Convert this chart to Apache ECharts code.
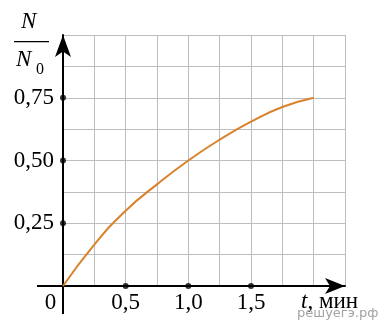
<!DOCTYPE html>
<html>
<head>
<meta charset="utf-8">
<script src="https://cdn.jsdelivr.net/npm/echarts@6/dist/echarts.min.js"></script>
<style>
  html, body { margin: 0; padding: 0; background: #fff; }
  #chart { width: 386px; height: 323px; }
</style>
</head>
<body>
<div id="chart"></div>
<script>
// N/N0 over time, t in minutes
const timeMin = [0, 0.25, 0.5, 0.75, 1, 1.25, 1.5, 1.75, 2]
const ratio = [0, 0.165, 0.3, 0.405, 0.5, 0.583, 0.655, 0.713, 0.75]

const xTickValues = [0.5, 1, 1.5]
const xTickLabels = ['0,5', '1,0', '1,5']
const yTickValues = [0.25, 0.5, 0.75]
const yTickLabels = ['0,25', '0,50', '0,75']

const serif = '"Liberation Serif", "Times New Roman", Times, serif'
const chart = echarts.init(document.getElementById('chart'), null, { renderer: 'canvas' })

const labelFor = (values, labels) => (v) => {
  const i = values.findIndex(x => Math.abs(x - v) < 1e-6)
  return i >= 0 ? labels[i] : ''
}

chart.setOption({
  animation: false,
  grid: { left: 63, right: 41, top: 35, bottom: 37 },
  xAxis: {
    type: 'value',
    min: 0, max: 2.25, interval: 0.25,
    axisLine: { show: true, lineStyle: { color: '#000', width: 2 }, symbol: ['none', 'arrow'], symbolSize: [12, 20] },
    axisTick: { show: false },
    splitLine: { show: true, lineStyle: { color: '#bdbdbd', width: 1 } },
    axisLabel: {
      color: '#000', fontFamily: serif, fontSize: 23, margin: 5,
      showMinLabel: true, showMaxLabel: true,
      formatter: (v) => v === 0 ? '{o|0}' : labelFor(xTickValues, xTickLabels)(v),
      rich: { o: { fontFamily: serif, fontSize: 23, color: '#000', padding: [0, 25, 0, 0] } },
    },
  },
  yAxis: {
    type: 'value',
    min: 0, max: 1, interval: 0.125,
    axisLine: { show: true, lineStyle: { color: '#000', width: 2 }, symbol: ['none', 'arrow'], symbolSize: [12, 22] },
    axisTick: { show: false },
    splitLine: { show: true, lineStyle: { color: '#bdbdbd', width: 1 } },
    axisLabel: {
      color: '#000', fontFamily: serif, fontSize: 23, margin: 9,
      formatter: labelFor(yTickValues, yTickLabels),
    },
  },
  series: [
    {
      type: 'line',
      data: timeMin.map((t, i) => [t, ratio[i]]),
      smooth: 0.5,
      showSymbol: false,
      lineStyle: { color: '#d9822b', width: 2 },
      z: 3,
    },
    {
      type: 'scatter',
      data: xTickValues.map(v => [v, 0]).concat(yTickValues.map(v => [0, v])),
      symbolSize: 6,
      itemStyle: { color: '#000' },
      clip: false,
      z: 4,
    },
  ],
})

// axis stubs past the origin, fraction label, axis name and watermark
const o = chart.convertToPixel({ gridIndex: 0 }, [0, 0])
chart.setOption({
  graphic: [
    { type: 'line', shape: { x1: o[0] - 26, y1: o[1], x2: o[0], y2: o[1] }, style: { stroke: '#000', lineWidth: 2 } },
    { type: 'line', shape: { x1: o[0], y1: o[1], x2: o[0], y2: o[1] + 28 }, style: { stroke: '#000', lineWidth: 2 } },
    { type: 'text', left: 21, top: 10, style: { text: 'N', fontFamily: serif, fontStyle: 'italic', fontSize: 23, fill: '#000' } },
    { type: 'rect', shape: { x: 14, y: 41, width: 35, height: 1.3 }, style: { fill: '#000' } },
    { type: 'text', left: 16, top: 48, style: { text: 'N', fontFamily: serif, fontStyle: 'italic', fontSize: 23, fill: '#000' } },
    { type: 'text', left: 36, top: 62, style: { text: '0', fontFamily: serif, fontSize: 16, fill: '#000' } },
    {
      type: 'text', left: 301, top: 290,
      style: {
        text: '{i|t}{r|, мин}',
        rich: {
          i: { fontFamily: serif, fontStyle: 'italic', fontSize: 23, fill: '#000' },
          r: { fontFamily: serif, fontSize: 23, fill: '#000' },
        },
      },
    },
    { type: 'text', left: 297, top: 307, style: { text: 'решуегэ.рф', fontFamily: 'DejaVu Sans', fontSize: 13, fill: '#a3a3a3' } },
  ],
})
</script>
</body>
</html>
